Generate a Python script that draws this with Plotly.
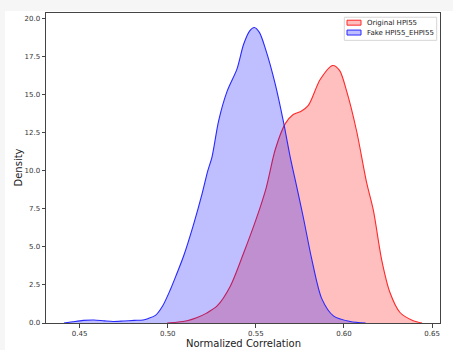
import plotly.graph_objects as go

# ---- data (KDE curves) ----
orig_label = "Original HPI55"
fake_label = "Fake HPI55_EHPI55"

orig_x = [0.4997, 0.505, 0.511, 0.5167, 0.522, 0.528, 0.5355, 0.543, 0.5506, 0.5559,
          0.561, 0.5667, 0.5712, 0.5755, 0.5798, 0.5865, 0.5936, 0.5975, 0.6016, 0.6072,
          0.6129, 0.6167, 0.6214, 0.6261, 0.6318, 0.6393, 0.6443]
orig_y = [0.0, 0.05, 0.15, 0.36, 0.65, 1.12, 2.42, 4.58, 6.97, 8.9,
          11.4, 13.1, 13.7, 13.9, 14.3, 16.0, 16.92, 16.6, 15.2, 12.6,
          9.2, 7.4, 4.15, 2.0, 0.69, 0.15, 0.0]

fake_x = [0.4411, 0.446, 0.452, 0.458, 0.464, 0.469, 0.475, 0.481, 0.486, 0.489,
          0.493, 0.497, 0.5015, 0.505, 0.509, 0.5147, 0.5195, 0.5227, 0.5251, 0.5289,
          0.5336, 0.5393, 0.543, 0.5465, 0.5491, 0.552, 0.5555, 0.561, 0.5657, 0.5695,
          0.5733, 0.577, 0.5818, 0.5874, 0.594, 0.6035, 0.6123]
fake_y = [0.0, 0.08, 0.17, 0.2, 0.14, 0.1, 0.13, 0.17, 0.2, 0.3,
          0.5, 1.1, 2.2, 3.2, 4.4, 6.5, 8.5, 10.0, 10.9, 13.3,
          15.2, 16.7, 18.3, 19.2, 19.42, 19.1, 18.0, 15.7, 13.2, 10.9,
          8.9, 6.9, 4.15, 1.6, 0.47, 0.1, 0.0]

x_ticks = [0.45, 0.50, 0.55, 0.60, 0.65]
y_ticks = [0.0, 2.5, 5.0, 7.5, 10.0, 12.5, 15.0, 17.5, 20.0]

RED_LINE = "rgb(255,40,40)"
BLUE_LINE = "rgb(40,40,255)"
RED_FILL = "rgba(255,0,0,0.25)"
BLUE_FILL = "rgba(0,0,255,0.25)"

fig = go.Figure()
fig.add_trace(go.Scatter(
    x=orig_x, y=orig_y, name=orig_label, mode="lines",
    line=dict(color=RED_LINE, width=1.1, shape="spline", smoothing=0.8),
    fill="tozeroy", fillcolor=RED_FILL, showlegend=False))
fig.add_trace(go.Scatter(
    x=fake_x, y=fake_y, name=fake_label, mode="lines",
    line=dict(color=BLUE_LINE, width=1.1, shape="spline", smoothing=0.8),
    fill="tozeroy", fillcolor=BLUE_FILL, showlegend=False))

axis_common = dict(showline=True, linecolor="#444", linewidth=1, mirror=True,
                   ticks="outside", ticklen=3.5, tickcolor="#444", tickwidth=0.8,
                   showgrid=False, zeroline=False,
                   tickfont=dict(family="DejaVu Sans", size=7, color="#333"))

# plot area in page pixels: x 46..440, y 13..327
PL, PR, PT, PB = 46, 440, 13, 327


def px(xp):
    return (xp - PL) / (PR - PL)


def py(yp):
    return (PB - yp) / (PB - PT)


shapes = [
    dict(type="rect", xref="paper", yref="paper", x0=px(-5), x1=px(460),
         y0=py(11), y1=py(-5), fillcolor="#f6f6f6", line=dict(width=0), layer="below"),
    dict(type="rect", xref="paper", yref="paper", x0=px(-5), x1=px(5),
         y0=py(360), y1=py(-5), fillcolor="#f6f6f6", line=dict(width=0), layer="below"),
    # legend box
    dict(type="rect", xref="paper", yref="paper", x0=px(344.3), x1=px(436.7),
         y0=py(40.7), y1=py(17.3), fillcolor="rgba(255,255,255,0.85)",
         line=dict(color="#d6d6d6", width=1), layer="above"),
    # legend patches
    dict(type="rect", xref="paper", yref="paper", x0=px(347), x1=px(361),
         y0=py(25.3), y1=py(20.3), fillcolor=RED_FILL,
         line=dict(color=RED_LINE, width=1), layer="above"),
    dict(type="rect", xref="paper", yref="paper", x0=px(347), x1=px(361),
         y0=py(35.3), y1=py(30.3), fillcolor=BLUE_FILL,
         line=dict(color=BLUE_LINE, width=1), layer="above"),
]

legend_font = dict(family="DejaVu Sans", size=7, color="#222")
annotations = [
    dict(text="Normalized Correlation", xref="paper", yref="paper",
         x=0.5, y=py(347.5), xanchor="center", yanchor="middle", showarrow=False,
         font=dict(family="DejaVu Sans", size=10, color="#222")),
    dict(text="Density", xref="paper", yref="paper",
         x=px(17.5), y=0.5, xanchor="center", yanchor="middle", showarrow=False,
         textangle=-90, font=dict(family="DejaVu Sans", size=10, color="#222")),
    dict(text=orig_label, xref="paper", yref="paper", x=px(365), y=py(22.8),
         xanchor="left", yanchor="middle", showarrow=False, font=legend_font),
    dict(text=fake_label, xref="paper", yref="paper", x=px(365), y=py(32.8),
         xanchor="left", yanchor="middle", showarrow=False, font=legend_font),
]

fig.update_layout(
    width=453, height=350,
    margin=dict(l=PL, r=453 - PR, t=PT, b=350 - PB),
    paper_bgcolor="white", plot_bgcolor="white",
    showlegend=False,
    xaxis=dict(range=[0.4309, 0.6545], tickvals=x_ticks,
               ticktext=[f"{v:.2f}" for v in x_ticks], **axis_common),
    yaxis=dict(range=[0, 20.37], tickvals=y_ticks,
               ticktext=[f"{v:.1f}" for v in y_ticks], **axis_common),
    annotations=annotations,
    shapes=shapes,
)

fig.write_html("out.html",
               config={"displayModeBar": False},
               post_script="document.body.style.margin='0';document.body.style.overflow='hidden';")
